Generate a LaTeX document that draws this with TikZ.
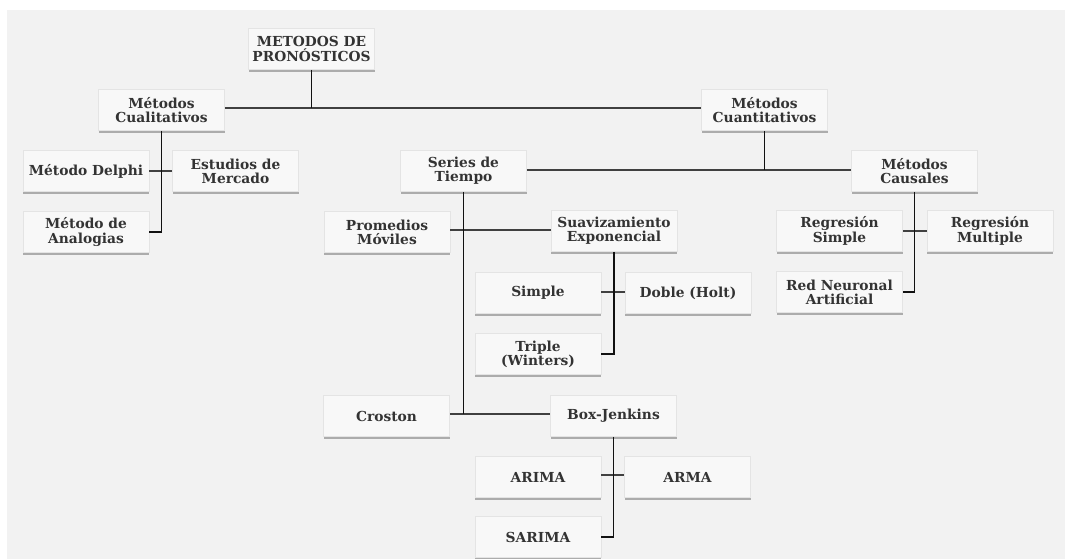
\documentclass[tikz,border=0pt]{standalone}
\usepackage{fontspec}
\setmainfont{DejaVu Serif}
\usetikzlibrary{shadows}
\definecolor{panel}{HTML}{F2F2F2}
\definecolor{boxfill}{HTML}{F8F8F8}
\definecolor{boxedge}{HTML}{E4E4E4}
\definecolor{shadowc}{HTML}{ACACAC}
\definecolor{textc}{HTML}{333333}
\definecolor{hline}{HTML}{404040}
\definecolor{vline}{HTML}{111111}
\tikzset{
  box/.style={rectangle, fill=boxfill, draw=boxedge, line width=0.8pt,
    minimum width=126pt, minimum height=41pt, inner sep=0pt, align=center,
    text=textc, font=\fontsize{13.8}{14.2}\selectfont\bfseries,
    general shadow={fill=shadowc, shadow yshift=-2.2pt}},
  hl/.style={draw=hline, line width=1.3pt},
  vl/.style={draw=vline, line width=1.8pt},
}
\begin{document}
\begin{tikzpicture}[x=1pt,y=-1pt]
\useasboundingbox (0,0) rectangle (1065,559);
\fill[white] (0,0) rectangle (1065,559);
\fill[panel] (7,10) rectangle (1065,559);

\node[box] (top) at (311.5,49) {METODOS DE\\PRONÓSTICOS};
\node[box] (cual) at (161.5,110) {Métodos\\Cualitativos};
\node[box] (cuant) at (764.5,110) {Métodos\\Cuantitativos};
\node[box] (delphi) at (86,171) {Método Delphi};
\node[box] (estudios) at (235.5,171) {Estudios de\\Mercado};
\node[box] (analog) at (86,232) {Método de\\Analogias};
\node[box] (series) at (463.5,171) {Series de\\Tiempo};
\node[box] (causales) at (914.5,171) {Métodos\\Causales};
\node[box] (promedios) at (387,232) {Promedios\\Móviles};
\node[box] (suav) at (614,231) {Suavizamiento\\Exponencial};
\node[box] (regs) at (839.5,231) {Regresión\\Simple};
\node[box] (regm) at (990,231) {Regresión\\Multiple};
\node[box] (red) at (839.5,292) {Red Neuronal\\Artificial};
\node[box] (simple) at (538,293) {Simple};
\node[box] (doble) at (688,293) {Doble (Holt)};
\node[box] (triple) at (538,354) {Triple\\(Winters)};
\node[box] (croston) at (386.5,416) {Croston};
\node[box] (boxj) at (613.5,416) {Box-Jenkins};
\node[box] (arima) at (538,477) {ARIMA};
\node[box] (arma) at (687.5,477) {ARMA};
\node[box] (sarima) at (538,537) {SARIMA};

% top level
\draw[hl] (cual.east) ++(0,-2) coordinate (c1) -- (c1 -| cuant.west);
\draw[vl] (top.south) -- (top.south |- c1);
% cualitativos
\draw[hl] (delphi.east) -- (estudios.west);
\draw[vl] (cual.south) |- (analog.east);
% cuantitativos
\draw[hl] (series.east) ++(0,-1) coordinate (c2) -- (c2 -| causales.west);
\draw[vl] (cuant.south) -- (cuant.south |- c2);
% series de tiempo
\draw[hl] (promedios.east) ++(0,-2) coordinate (c3) -- (c3 -| suav.west);
\draw[hl] (croston.east) ++(0,-2) coordinate (c4) -- (c4 -| boxj.west);
\draw[vl] (series.south) -- (series.south |- c4);
% suavizamiento
\draw[hl] (simple.east) ++(0,-1) coordinate (c5) -- (c5 -| doble.west);
\draw[vl] (suav.south) |- (triple.east);
% box-jenkins
\draw[hl] (arima.east) ++(0,-2) coordinate (c6) -- (c6 -| arma.west);
\draw[vl] (boxj.south) |- (sarima.east);
% causales
\draw[hl] (regs.east) -- (regm.west);
\draw[vl] (causales.south) |- (red.east);
\end{tikzpicture}
\end{document}
